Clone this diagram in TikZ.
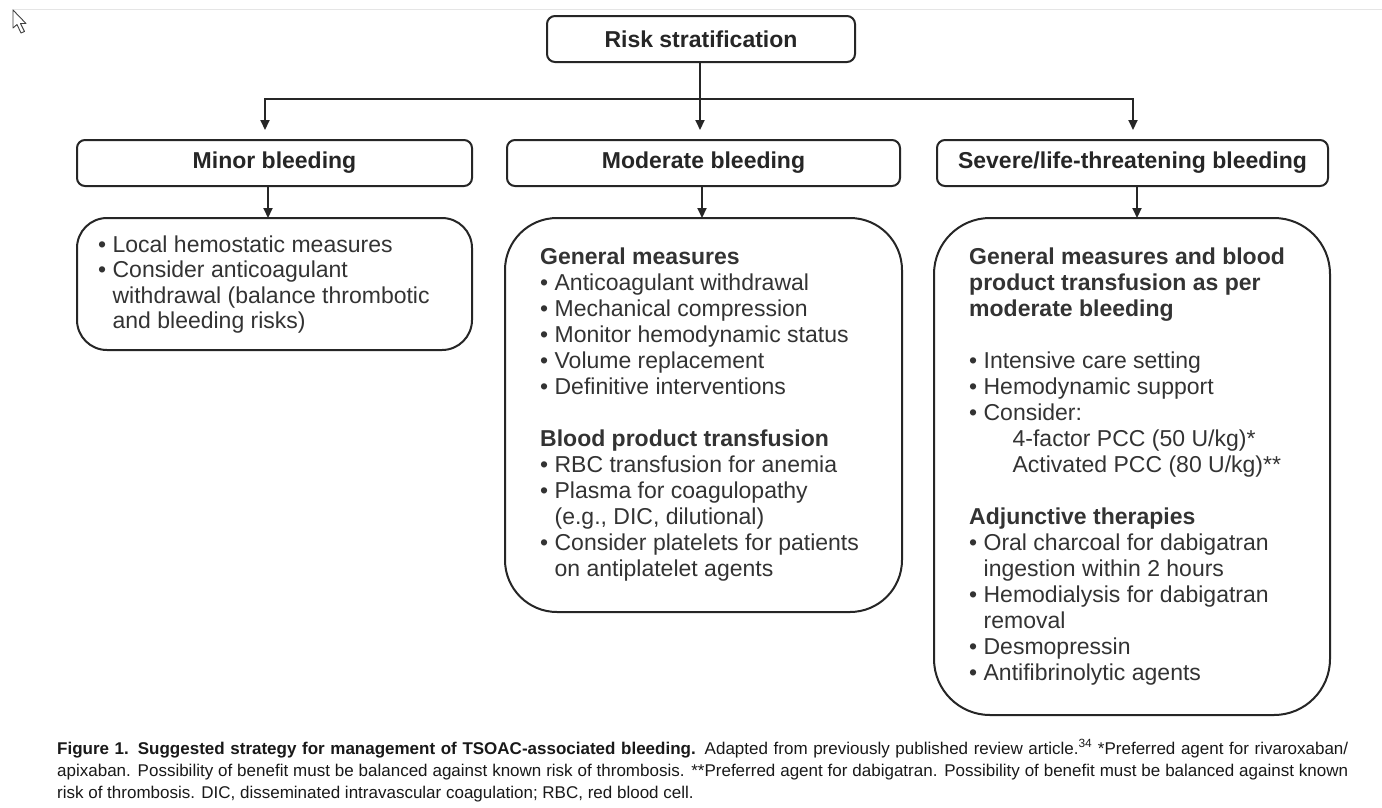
\documentclass[tikz,border=0pt]{standalone}
\usepackage{fontspec}
\setmainfont{Liberation Sans}
\usetikzlibrary{arrows.meta}
\begin{document}
\begin{tikzpicture}[x=1pt,y=-1pt,
  titlebox/.style={draw=black!85,line width=2pt,rounded corners=8pt,minimum height=46pt,inner sep=0pt,text=black!85,font=\fontsize{23}{26}\selectfont\bfseries},
  contentbox/.style={draw=black!85,line width=2pt},
  conn/.style={line width=2pt,black!85,-{Triangle[length=10pt,width=9pt]}},
  body/.style={anchor=north west,inner sep=0pt,align=left,text=black!80,font=\fontsize{23}{26}\selectfont},
  captext/.style={anchor=base west,inner sep=0pt,text=black!90,font=\fontsize{17}{22}\selectfont}]
\useasboundingbox (0,0) rectangle (1382,807);
\fill[white] (0,0) rectangle (1382,807);
\draw[black!10,line width=1pt] (12,9) -- (1382,9);
% mouse pointer of the screenshot
\draw[black!75,line width=0.9pt,line join=round,fill=white] (13,10) -- (13,28) -- (17,24.5) -- (21,33) -- (24.5,31.5) -- (20.5,23.5) -- (26,23.5) -- cycle;
% title boxes
\node[titlebox,minimum width=308pt] (risk) at (701,39) {Risk stratification};
\node[titlebox,minimum width=395pt] (minor) at (274.5,163) {Minor bleeding};
\node[titlebox,minimum width=393pt] (moder) at (703.5,163) {Moderate bleeding};
\node[titlebox,minimum width=391pt] (sever) at (1132.5,163) {Severe/life-threatening bleeding};
% content boxes
\draw[contentbox,rounded corners=30pt] (77,218) rectangle (472,350);
\coordinate (minorc) at (268,218);
\draw[contentbox,rounded corners=52pt] (505,218) rectangle (902,612);
\coordinate (moderc) at (702,218);
\draw[contentbox,rounded corners=56pt] (934,218) rectangle (1330,715);
\coordinate (severc) at (1137,218);
% connectors
\coordinate (split) at (700,99);
\coordinate (tipl) at (265,130);
\coordinate (tipm) at (700,130);
\coordinate (tipr) at (1133,130);
\draw[line width=2pt,black!85] (risk.south -| split) -- (split);
\draw[conn] (split) -| (tipl);
\draw[conn] (split) -- (tipm);
\draw[conn] (split) -| (tipr);
\draw[conn] (minorc |- minor.south) -- (minorc);
\draw[conn] (moderc |- moder.south) -- (moderc);
\draw[conn] (severc |- sever.south) -- (severc);
% texts
\node[body,font=\fontsize{23}{25.5}\selectfont] (minort) at (98,235.5) {• Local hemostatic measures\\
• Consider anticoagulant\\
\phantom{• }withdrawal (balance thrombotic\\
\phantom{• }and bleeding risks)};
\node[body] (modert) at (540,248) {\textbf{General measures}\\
• Anticoagulant withdrawal\\
• Mechanical compression\\
• Monitor hemodynamic status\\
• Volume replacement\\
• Definitive interventions\\[26pt]
\textbf{Blood product transfusion}\\
• RBC transfusion for anemia\\
• Plasma for coagulopathy\\
\phantom{• }(e.g., DIC, dilutional)\\
• Consider platelets for patients\\
\phantom{• }on antiplatelet agents};
\node[body] (severt) at (969,248) {\textbf{General measures and blood}\\
\textbf{product transfusion as per}\\
\textbf{moderate bleeding}\\[26pt]
• Intensive care setting\\
• Hemodynamic support\\
• Consider:\\
\phantom{• }\hspace{29pt}4-factor PCC (50 U/kg)*\\
\phantom{• }\hspace{29pt}Activated PCC (80 U/kg)**\\[26pt]
\textbf{Adjunctive therapies}\\
• Oral charcoal for dabigatran\\
\phantom{• }ingestion within 2 hours\\
• Hemodialysis for dabigatran\\
\phantom{• }removal\\
• Desmopressin\\
• Antifibrinolytic agents};
% caption
\node[captext] (cap1) at (57,754) {\hbox to 1291pt{\textbf{Figure 1. Suggested strategy for management of TSOAC-associated bleeding.} Adapted from previously published review article.\textsuperscript{34} *Preferred agent for rivaroxaban/}};
\node[captext] (cap2) at (57,776) {\hbox to 1291pt{apixaban. Possibility of benefit must be balanced against known risk of thrombosis. **Preferred agent for dabigatran. Possibility of benefit must be balanced against known}};
\node[captext] (cap3) at (57,798) {risk of thrombosis. DIC, disseminated intravascular coagulation; RBC, red blood cell.};
\end{tikzpicture}
\end{document}
